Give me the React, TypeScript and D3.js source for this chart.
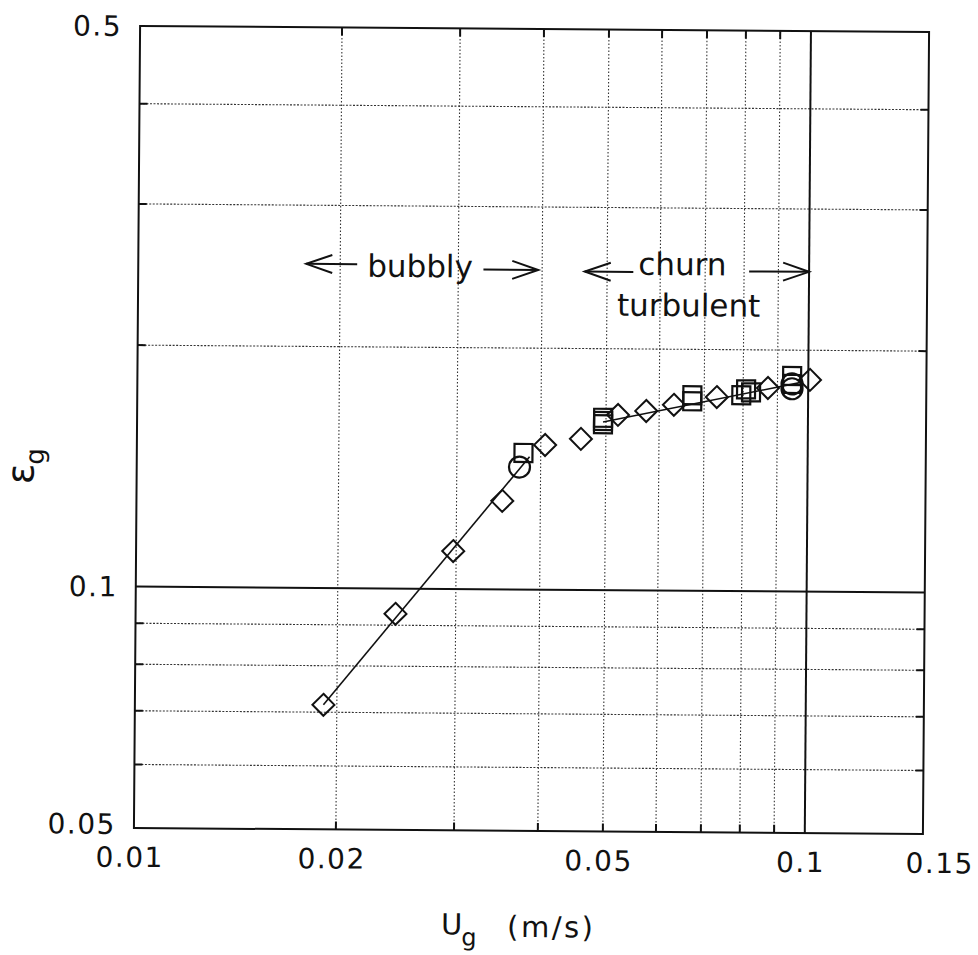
import React from "react";
import * as d3 from "d3";

// ---- data ----
const xTickValues = [0.01, 0.02, 0.05, 0.1, 0.15];
const xTickLabels = ["0.01", "0.02", "0.05", "0.1", "0.15"];
const yTickValues = [0.05, 0.1, 0.5];
const yTickLabels = ["0.05", "0.1", "0.5"];
const xGridDotted = [0.02, 0.03, 0.04, 0.05, 0.06, 0.07, 0.08, 0.09];
const xGridSolid = [0.1];
const yGridDotted = [0.06, 0.07, 0.08, 0.09, 0.2, 0.3, 0.4];
const yGridSolid = [0.1];

const diamondU = [0.0191, 0.0244, 0.0297, 0.0351, 0.0406, 0.0459, 0.0521, 0.0574, 0.0631, 0.0731, 0.0871, 0.1006];
const diamondE = [0.0715, 0.093, 0.1115, 0.1289, 0.1515, 0.1543, 0.1654, 0.1674, 0.1705, 0.1745, 0.1793, 0.1837];

const squareU = [0.0377, 0.0495, 0.0495, 0.0495, 0.0672, 0.0672, 0.0795, 0.0808, 0.0822, 0.0946, 0.0946];
const squareE = [0.148, 0.161, 0.1625, 0.164, 0.1723, 0.1753, 0.1755, 0.1785, 0.177, 0.1815, 0.1857];

const circleU = [0.0372, 0.0946, 0.0946];
const circleE = [0.1421, 0.179, 0.1815];

const bubblyFitU = [0.0191, 0.0385];
const bubblyFitE = [0.0715, 0.1464];
const churnFitU = [0.0495, 0.098];
const churnFitE = [0.162, 0.1825];

// annotation anchors (data coords)
const bubblyArrowU = [0.0178, 0.0212, 0.0327, 0.03947];
const bubblyArrowE = [0.2535, 0.2503];
const churnArrowU = [0.0463, 0.0547, 0.0814, 0.1];
const churnArrowE = [0.2495, 0.2505];

const W = 978;
const H = 955;
const L = 137, R = 926, T = 29, B = 831;

export default function App() {
  const x = d3.scaleLog().domain([0.01, 0.15]).range([L, R]);
  const y = d3.scaleLog().domain([0.05, 0.5]).range([B, T]);
  const line = d3
    .line<[number, number]>()
    .x((d) => x(d[0]))
    .y((d) => y(d[1]));
  const font = "'DejaVu Sans', sans-serif";
  const tick = 8;
  const ink = "#111";

  const arrowHead = (tx: number, ty: number, dir: number) =>
    `M${tx - dir * 26},${ty - 9}L${tx},${ty}L${tx - dir * 26},${ty + 9}`;

  const bL = x(bubblyArrowU[0]);
  const bL2 = x(bubblyArrowU[1]);
  const bR1 = x(bubblyArrowU[2]);
  const bR = x(bubblyArrowU[3]);
  const byL = y(bubblyArrowE[0]);
  const byR = y(bubblyArrowE[1]);
  const cL = x(churnArrowU[0]);
  const cL2 = x(churnArrowU[1]);
  const cR1 = x(churnArrowU[2]);
  const cR = x(churnArrowU[3]);
  const cyL = y(churnArrowE[0]);
  const cyR = y(churnArrowE[1]);

  return (
    <svg
      width={W}
      height={H}
      style={{ position: "absolute", left: 0, top: 0, background: "#fff" }}
      fontFamily={font}
    >
      <rect x={0} y={0} width={W} height={H} fill="#fff" />
      <g transform="rotate(0.44 533 430)">
        {/* grid */}
        {xGridDotted.map((v) => (
          <line key={"xg" + v} x1={x(v)} x2={x(v)} y1={T} y2={B} stroke="#333" strokeWidth={1.1} strokeDasharray="1.5,2" />
        ))}
        {yGridDotted.map((v) => (
          <line key={"yg" + v} x1={L} x2={R} y1={y(v)} y2={y(v)} stroke="#333" strokeWidth={1.1} strokeDasharray="2,1.5" />
        ))}
        {xGridSolid.map((v) => (
          <line key={"xs" + v} x1={x(v)} x2={x(v)} y1={T} y2={B} stroke={ink} strokeWidth={2} />
        ))}
        {yGridSolid.map((v) => (
          <line key={"ys" + v} x1={L} x2={R} y1={y(v)} y2={y(v)} stroke={ink} strokeWidth={2} />
        ))}
        {/* ticks */}
        {xGridDotted.map((v) => (
          <g key={"xt" + v}>
            <line x1={x(v)} x2={x(v)} y1={B} y2={B - tick} stroke={ink} strokeWidth={2} />
            <line x1={x(v)} x2={x(v)} y1={T} y2={T + tick} stroke={ink} strokeWidth={2} />
          </g>
        ))}
        {yGridDotted.map((v) => (
          <g key={"yt" + v}>
            <line x1={L} x2={L + tick} y1={y(v)} y2={y(v)} stroke={ink} strokeWidth={2} />
            <line x1={R} x2={R - tick} y1={y(v)} y2={y(v)} stroke={ink} strokeWidth={2} />
          </g>
        ))}
        {/* frame */}
        <rect x={L} y={T} width={R - L} height={B - T} fill="none" stroke={ink} strokeWidth={2} />

        {/* tick labels */}
        {xTickValues.map((v, i) => (
          <text
            key={"xl" + v}
            x={x(v) + (i === xTickValues.length - 1 ? 17 : -4)}
            y={870}
            textAnchor="middle"
            fontSize={28}
            letterSpacing={1.5}
            fill={ink}
          >
            {xTickLabels[i]}
          </text>
        ))}
        {yTickValues.map((v, i) => (
          <text
            key={"yl" + v}
            x={119}
            y={y(v) + 10 - (v === 0.05 ? 4 : 0)}
            textAnchor="end"
            fontSize={28}
            letterSpacing={1.5}
            fill={ink}
          >
            {yTickLabels[i]}
          </text>
        ))}

        {/* axis titles */}
        <text x={445} y={935} fontSize={29} fill={ink}>
          U
          <tspan dy={11} dx={-1} fontSize={24}>g</tspan>
        </text>
        <text x={511} y={937} fontSize={29} letterSpacing={2.5} fill={ink}>
          (m/s)
        </text>
        <text transform="translate(34,488) rotate(-90)" fontSize={38} fill={ink}>
          ε
          <tspan dy={10} dx={-1} fontSize={26}>g</tspan>
        </text>

        {/* fits */}
        <path d={line(bubblyFitU.map((u, i) => [u, bubblyFitE[i]]) as [number, number][]) || ""} fill="none" stroke={ink} strokeWidth={1.6} />
        <path d={line(churnFitU.map((u, i) => [u, churnFitE[i]]) as [number, number][]) || ""} fill="none" stroke={ink} strokeWidth={1.6} />

        {/* markers */}
        {diamondU.map((u, i) => {
          const cx = x(u), cy = y(diamondE[i]);
          const r = 11;
          return (
            <path key={"d" + i} d={`M${cx},${cy - r}L${cx + r},${cy}L${cx},${cy + r}L${cx - r},${cy}Z`} fill="none" stroke={ink} strokeWidth={2} />
          );
        })}
        {squareU.map((u, i) => {
          const cx = x(u), cy = y(squareE[i]);
          const s = 9;
          return <rect key={"s" + i} x={cx - s} y={cy - s} width={2 * s} height={2 * s} fill="none" stroke={ink} strokeWidth={2.2} />;
        })}
        {circleU.map((u, i) => (
          <circle key={"c" + i} cx={x(u)} cy={y(circleE[i])} r={10.5} fill="none" stroke={ink} strokeWidth={2.2} />
        ))}

        {/* annotations */}
        <path d={`M${bL},${byL}L${bL2},${byL}`} stroke={ink} strokeWidth={2} fill="none" />
        <path d={arrowHead(bL, byL, -1)} stroke={ink} strokeWidth={2} fill="none" />
        <text x={366} y={278} fontSize={31} fill={ink}>bubbly</text>
        <path d={`M${bR1},${byR}L${bR},${byR}`} stroke={ink} strokeWidth={2} fill="none" />
        <path d={arrowHead(bR, byR, 1)} stroke={ink} strokeWidth={2} fill="none" />

        <path d={`M${cL},${cyL}L${cL2},${cyL}`} stroke={ink} strokeWidth={2} fill="none" />
        <path d={arrowHead(cL, cyL, -1)} stroke={ink} strokeWidth={2} fill="none" />
        <text x={637} y={274} fontSize={31} fill={ink}>churn</text>
        <text x={616} y={315} fontSize={31} fill={ink}>turbulent</text>
        <path d={`M${cR1},${cyR}L${cR},${cyR}`} stroke={ink} strokeWidth={2} fill="none" />
        <path d={arrowHead(cR, cyR, 1)} stroke={ink} strokeWidth={2} fill="none" />
      </g>
    </svg>
  );
}
